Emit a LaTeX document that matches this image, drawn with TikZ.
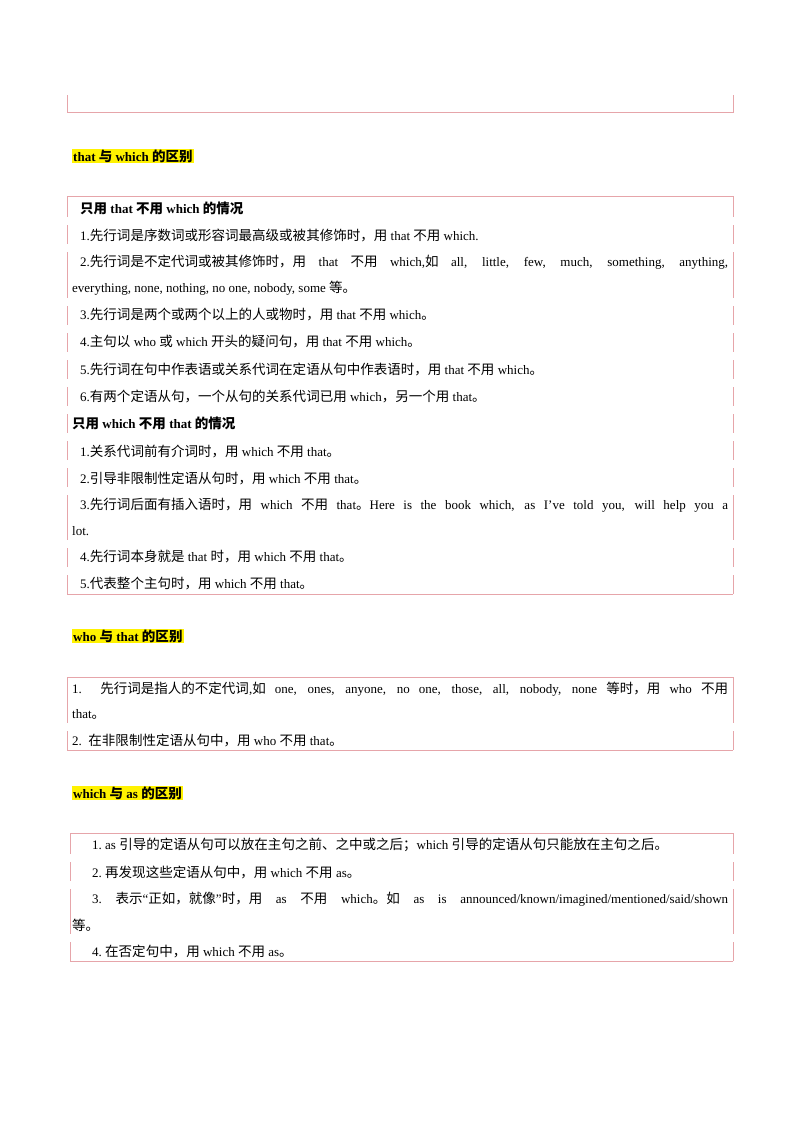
\documentclass[tikz,border=0pt]{standalone}
\usepackage{fontspec}
\setmainfont{Liberation Serif}
\newfontfamily\cjkfont{Noto Sans CJK SC}[Scale=1.04]
\XeTeXinterchartokenstate=1
\newXeTeXintercharclass\cjkclass
\newcount\cc
\cc="4E00 \loop\ifnum\cc<"A000 \XeTeXcharclass\cc=\cjkclass \advance\cc 1 \repeat
\cc="3000 \loop\ifnum\cc<"3040 \XeTeXcharclass\cc=\cjkclass \advance\cc 1 \repeat
\cc="FF00 \loop\ifnum\cc<"FFF0 \XeTeXcharclass\cc=\cjkclass \advance\cc 1 \repeat
\XeTeXinterchartoks 0 \cjkclass = {\cjkfont}
\XeTeXinterchartoks 4095 \cjkclass = {\cjkfont}
\XeTeXinterchartoks \cjkclass 0 = {\rmfamily}
\XeTeXinterchartoks \cjkclass 4095 = {\rmfamily}
\definecolor{pinkline}{HTML}{E6A5AA}
\tikzset{
  txt/.style={anchor=west,inner sep=0pt,font=\fontsize{13}{15}\selectfont},
  btxt/.style={txt,font=\fontsize{13}{15}\selectfont\bfseries},
  head/.style={anchor=west,inner sep=1pt,fill=yellow,font=\fontsize{13}{15}\selectfont\bfseries},
  bl/.style={pinkline,line width=0.8pt}
}
\newcommand\just[2]{\makebox[#1][s]{#2}}
\begin{document}
\begin{tikzpicture}[x=1pt,y=-1pt]
\useasboundingbox (0,0) rectangle (800,1132);
% box 0
\draw[bl] (67,95) -- (67,112) -- (733,112) -- (733,95);
\node[head] (h1) at (72,156) {that 与 which 的区别};
% box 1
\draw[bl] (67,196) -- (733,196);
\draw[bl] (67,594) -- (733,594);
\foreach \a/\b in {196/217,225/244,252/298,306/325,333/352,360/379,387/406,414/433,441/460,468/487,495/540,548/567,575/594}{
  \draw[bl] (67,\a) -- (67,\b); \draw[bl] (733,\a) -- (733,\b);}
\node[btxt] (r0) at (80,208) {只用 that 不用 which 的情况};
\node[txt] (r1) at (80,235) {1.先行词是序数词或形容词最高级或被其修饰时，用 that 不用 which.};
\node[txt] (r2) at (80,262) {\just{648pt}{2.先行词是不定代词或被其修饰时，用 that 不用 which,如 all, little, few, much, something, anything,}};
\node[txt] (r2b) at (72,288) {everything, none, nothing, no one, nobody, some 等。};
\node[txt] (r3) at (80,315) {3.先行词是两个或两个以上的人或物时，用 that 不用 which。};
\node[txt] (r4) at (80,342) {4.主句以 who 或 which 开头的疑问句，用 that 不用 which。};
\node[txt] (r5) at (80,369) {5.先行词在句中作表语或关系代词在定语从句中作表语时，用 that 不用 which。};
\node[txt] (r6) at (80,396) {6.有两个定语从句，一个从句的关系代词已用 which，另一个用 that。};
\node[btxt] (s0) at (72,423) {只用 which 不用 that 的情况};
\node[txt] (s1) at (80,451) {1.关系代词前有介词时，用 which 不用 that。};
\node[txt] (s2) at (80,478) {2.引导非限制性定语从句时，用 which 不用 that。};
\node[txt] (s3) at (80,505) {\just{648pt}{3.先行词后面有插入语时，用 which 不用 that。Here is the book which, as I’ve told you, will help you a}};
\node[txt] (s3b) at (72,531) {lot.};
\node[txt] (s4) at (80,557) {4.先行词本身就是 that 时，用 which 不用 that。};
\node[txt] (s5) at (80,584) {5.代表整个主句时，用 which 不用 that。};
% box 2
\node[head] (h2) at (72,636) {who 与 that 的区别};
\draw[bl] (67,677) -- (733,677);
\draw[bl] (67,750) -- (733,750);
\foreach \a/\b in {677/723,731/750}{
  \draw[bl] (67,\a) -- (67,\b); \draw[bl] (733,\a) -- (733,\b);}
\node[txt] (w1) at (72,689) {\just{656pt}{1.\ \ 先行词是指人的不定代词,如 one, ones, anyone, no one, those, all, nobody, none 等时，用 who 不用}};
\node[txt] (w1b) at (72,714) {that。};
\node[txt] (w2) at (72,740) {2.\ \ 在非限制性定语从句中，用 who 不用 that。};
% box 3
\node[head] (h3) at (72,793) {which 与 as 的区别};
\draw[bl] (70,833) -- (733,833);
\draw[bl] (70,961) -- (733,961);
\foreach \a/\b in {833/854,862/881,889/934,942/961}{
  \draw[bl] (70,\a) -- (70,\b); \draw[bl] (733,\a) -- (733,\b);}
\node[txt] (a1) at (92,845) {1.\ as 引导的定语从句可以放在主句之前、之中或之后；which 引导的定语从句只能放在主句之后。};
\node[txt] (a2) at (92,872) {2.\ 再发现这些定语从句中，用 which 不用 as。};
\node[txt] (a3) at (92,899) {\just{636pt}{3.\ 表示“正如，就像”时，用 as 不用 which。如 as is announced/known/imagined/mentioned/said/shown}};
\node[txt] (a3b) at (72,925) {等。};
\node[txt] (a4) at (92,951) {4.\ 在否定句中，用 which 不用 as。};
\end{tikzpicture}
\end{document}
